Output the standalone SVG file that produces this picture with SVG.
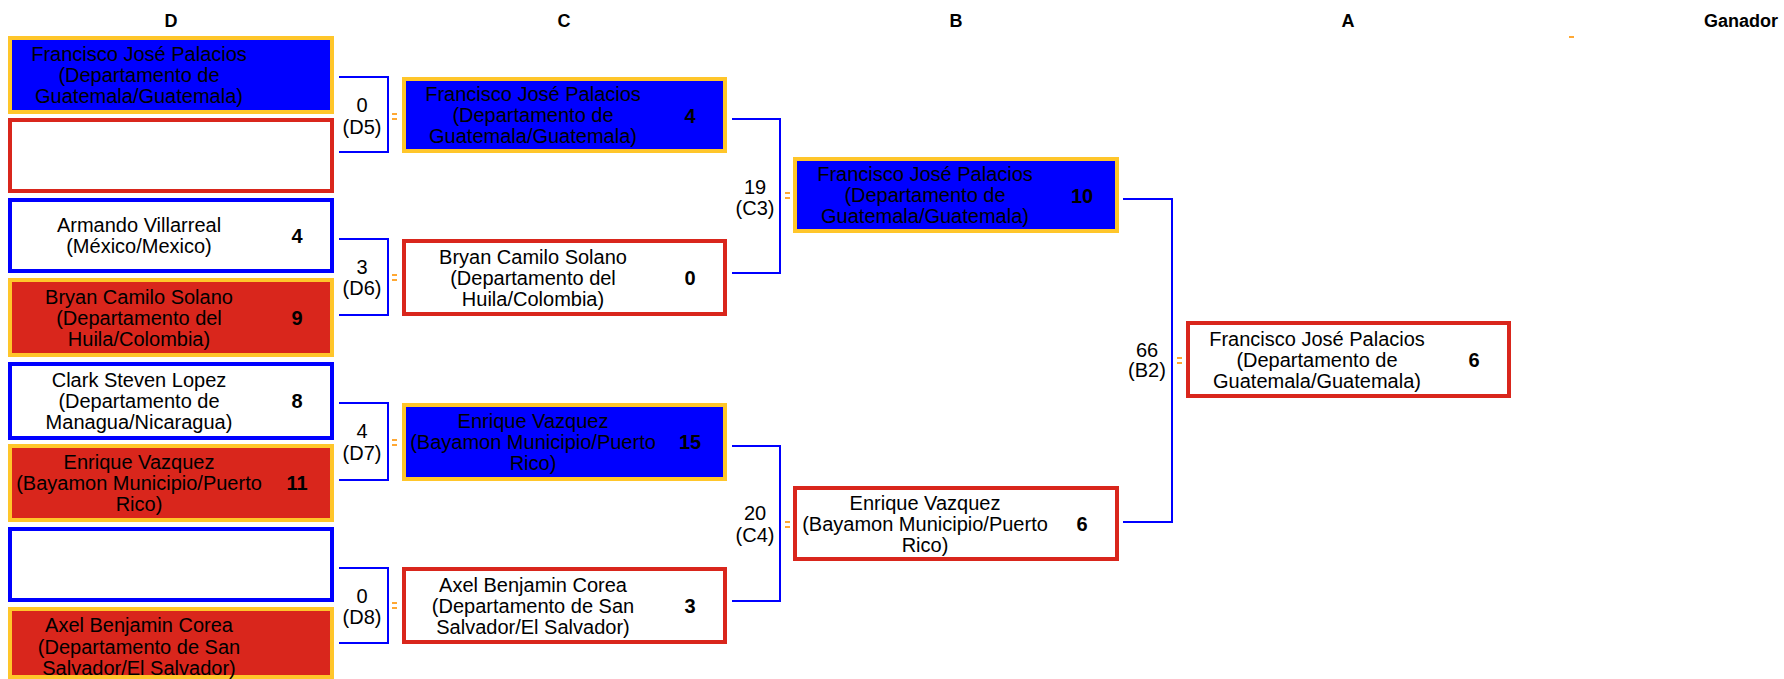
<svg xmlns="http://www.w3.org/2000/svg" width="1784" height="679" viewBox="0 0 1784 679">
<style>
.bg{fill:#fff}
.wb{fill:#0000FF;stroke:#FFC62A;stroke-width:4}
.wr{fill:#D9261C;stroke:#FFC62A;stroke-width:4}
.lr{fill:#fff;stroke:#D9261C;stroke-width:4}
.lb{fill:#fff;stroke:#0000FF;stroke-width:4}
.t{font-family:"Liberation Sans",Arial,sans-serif;font-size:20px;text-anchor:middle;fill:#000}
.s{font-family:"Liberation Sans",Arial,sans-serif;font-size:20px;font-weight:bold;text-anchor:middle;fill:#000}
.h{font-family:"Liberation Sans",Arial,sans-serif;font-size:18px;font-weight:bold;text-anchor:middle;fill:#000}
.c{fill:none;stroke:#0000FF;stroke-width:2}
.m{fill:#FFA833}
</style>
<rect class="bg" x="0" y="0" width="1784" height="679"/>
<g id="titles">
<text class="h" x="171" y="27">D</text>
<text class="h" x="564" y="27">C</text>
<text class="h" x="956" y="27">B</text>
<text class="h" x="1348" y="27">A</text>
<text class="h" x="1741" y="27">Ganador</text>
</g>
<g id="connectors">
<path class="c" d="M339 77H388V152H339"/>
<path class="c" d="M339 239H388V315H339"/>
<path class="c" d="M339 403H388V480H339"/>
<path class="c" d="M339 568H388V643H339"/>
<path class="c" d="M732 119H780V273H732"/>
<path class="c" d="M732 446H780V601H732"/>
<path class="c" d="M1123 199H1172V522H1123"/>
<text class="t" x="362" y="112">0</text><text class="t" x="362" y="134">(D5)</text>
<text class="t" x="362" y="274">3</text><text class="t" x="362" y="295">(D6)</text>
<text class="t" x="362" y="438">4</text><text class="t" x="362" y="460">(D7)</text>
<text class="t" x="362" y="603">0</text><text class="t" x="362" y="624">(D8)</text>
<text class="t" x="755" y="194">19</text><text class="t" x="755" y="215">(C3)</text>
<text class="t" x="755" y="520">20</text><text class="t" x="755" y="542">(C4)</text>
<text class="t" x="1147" y="357">66</text><text class="t" x="1147" y="377">(B2)</text>
<rect class="m" x="392" y="113" width="5" height="2"/><rect class="m" x="392" y="118" width="5" height="2"/>
<rect class="m" x="392" y="274" width="5" height="2"/><rect class="m" x="392" y="279" width="5" height="2"/>
<rect class="m" x="392" y="439" width="5" height="2"/><rect class="m" x="392" y="444" width="5" height="2"/>
<rect class="m" x="392" y="602" width="5" height="2"/><rect class="m" x="392" y="607" width="5" height="2"/>
<rect class="m" x="785" y="192" width="5" height="2"/><rect class="m" x="785" y="197" width="5" height="2"/>
<rect class="m" x="785" y="521" width="5" height="2"/><rect class="m" x="785" y="526" width="5" height="2"/>
<rect class="m" x="1177" y="357" width="5" height="2"/><rect class="m" x="1177" y="362" width="5" height="2"/>
<rect class="m" x="1569" y="36" width="5" height="2"/>
</g>
<g id="d1"><rect class="wb" x="10" y="38" width="322" height="74"/>
<text class="t" x="139" y="61">Francisco José Palacios</text><text class="t" x="139" y="82">(Departamento de</text><text class="t" x="139" y="103">Guatemala/Guatemala)</text></g>
<g id="d2"><rect class="lr" x="10" y="120" width="322" height="71"/></g>
<g id="d3"><rect class="lb" x="10" y="200" width="322" height="71"/>
<text class="t" x="139" y="232">Armando Villarreal</text><text class="t" x="139" y="253">(México/Mexico)</text><text class="s" x="297" y="243">4</text></g>
<g id="d4"><rect class="wr" x="10" y="280" width="322" height="75"/>
<text class="t" x="139" y="304">Bryan Camilo Solano</text><text class="t" x="139" y="325">(Departamento del</text><text class="t" x="139" y="346">Huila/Colombia)</text><text class="s" x="297" y="325">9</text></g>
<g id="d5"><rect class="lb" x="10" y="364" width="322" height="74"/>
<text class="t" x="139" y="387">Clark Steven Lopez</text><text class="t" x="139" y="408">(Departamento de</text><text class="t" x="139" y="429">Managua/Nicaragua)</text><text class="s" x="297" y="408">8</text></g>
<g id="d6"><rect class="wr" x="10" y="446" width="322" height="74"/>
<text class="t" x="139" y="469">Enrique Vazquez</text><text class="t" x="139" y="490">(Bayamon Municipio/Puerto</text><text class="t" x="139" y="511">Rico)</text><text class="s" x="297" y="490">11</text></g>
<g id="d7"><rect class="lb" x="10" y="529" width="322" height="71"/></g>
<g id="d8"><rect class="wr" x="10" y="609" width="322" height="68"/>
<text class="t" x="139" y="632">Axel Benjamin Corea</text><text class="t" x="139" y="654">(Departamento de San</text><text class="t" x="139" y="675">Salvador/El Salvador)</text></g>
<g id="c1"><rect class="wb" x="404" y="79" width="321" height="72"/>
<text class="t" x="533" y="101">Francisco José Palacios</text><text class="t" x="533" y="122">(Departamento de</text><text class="t" x="533" y="143">Guatemala/Guatemala)</text><text class="s" x="690" y="123">4</text></g>
<g id="c2"><rect class="lr" x="404" y="241" width="321" height="73"/>
<text class="t" x="533" y="264">Bryan Camilo Solano</text><text class="t" x="533" y="285">(Departamento del</text><text class="t" x="533" y="306">Huila/Colombia)</text><text class="s" x="690" y="285">0</text></g>
<g id="c3"><rect class="wb" x="404" y="405" width="321" height="74"/>
<text class="t" x="533" y="428">Enrique Vazquez</text><text class="t" x="533" y="449">(Bayamon Municipio/Puerto</text><text class="t" x="533" y="470">Rico)</text><text class="s" x="690" y="449">15</text></g>
<g id="c4"><rect class="lr" x="404" y="569" width="321" height="73"/>
<text class="t" x="533" y="592">Axel Benjamin Corea</text><text class="t" x="533" y="613">(Departamento de San</text><text class="t" x="533" y="634">Salvador/El Salvador)</text><text class="s" x="690" y="613">3</text></g>
<g id="b1"><rect class="wb" x="795" y="159" width="322" height="72"/>
<text class="t" x="925" y="181">Francisco José Palacios</text><text class="t" x="925" y="202">(Departamento de</text><text class="t" x="925" y="223">Guatemala/Guatemala)</text><text class="s" x="1082" y="203">10</text></g>
<g id="b2"><rect class="lr" x="795" y="488" width="322" height="71"/>
<text class="t" x="925" y="510">Enrique Vazquez</text><text class="t" x="925" y="531">(Bayamon Municipio/Puerto</text><text class="t" x="925" y="552">Rico)</text><text class="s" x="1082" y="531">6</text></g>
<g id="a1"><rect class="lr" x="1188" y="323" width="321" height="73"/>
<text class="t" x="1317" y="346">Francisco José Palacios</text><text class="t" x="1317" y="367">(Departamento de</text><text class="t" x="1317" y="388">Guatemala/Guatemala)</text><text class="s" x="1474" y="367">6</text></g>
</svg>
